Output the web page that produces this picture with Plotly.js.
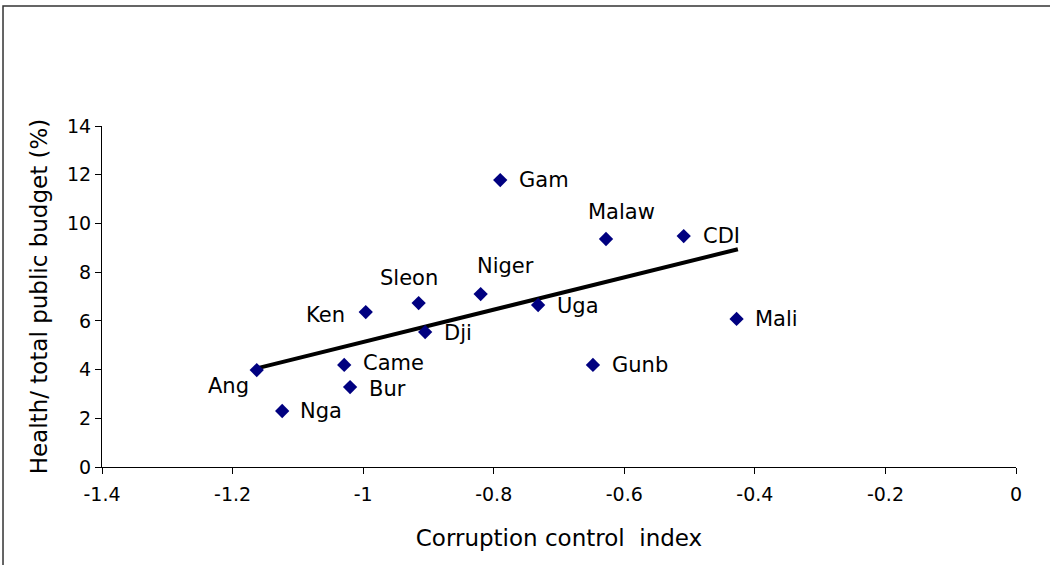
<!DOCTYPE html>
<html>
<head>
<meta charset="utf-8">
<script src="https://cdn.plot.ly/plotly-3.0.1.min.js"></script>
<style>html,body{margin:0;padding:0;background:#fff;}#chart{width:1050px;height:565px;}</style>
</head>
<body>
<div id="chart"></div>
<script>
var countries = ["Ang","Nga","Came","Bur","Ken","Sleon","Dji","Niger","Gam","Uga","Malaw","Gunb","CDI","Mali"];
var corruptionIndex = [-1.163,-1.124,-1.029,-1.020,-0.996,-0.915,-0.905,-0.820,-0.790,-0.732,-0.628,-0.648,-0.509,-0.428];
var healthShare = [3.98,2.30,4.19,3.28,6.36,6.73,5.54,7.10,11.78,6.65,9.36,4.19,9.48,6.08];
var trendX = [-1.163,-0.426];
var trendY = [4.05,8.94];
var xTicks = [-1.4,-1.2,-1,-0.8,-0.6,-0.4,-0.2,0];
var xTickText = ["-1.4","-1.2","-1","-0.8","-0.6","-0.4","-0.2","0"];
var yTicks = [0,2,4,6,8,10,12,14];

// label placement (style): [xanchor, xshift, yshift]
var labelPlace = {
  "Ang":["center",-28,-16], "Nga":["left",16,0], "Came":["left",17,2], "Bur":["left",17,-2],
  "Ken":["right",-19,-3], "Sleon":["center",-10,25], "Dji":["left",17,-1], "Niger":["center",25,28],
  "Gam":["left",17,0], "Uga":["left",17,-1], "Malaw":["center",15,27], "Gunb":["left",17,0],
  "CDI":["left",17,0], "Mali":["left",16,0]
};

var font = "DejaVu Sans, Verdana, sans-serif";

var traces = [
  {x: trendX, y: trendY, type: "scatter", mode: "lines",
   line: {color: "#000000", width: 4}, hoverinfo: "skip", showlegend: false},
  {x: corruptionIndex, y: healthShare, type: "scatter", mode: "markers",
   marker: {symbol: "diamond", color: "#000080", size: 11, line: {width: 0}},
   text: countries, showlegend: false}
];

var annotations = countries.map(function(c, i){
  var p = labelPlace[c];
  return {x: corruptionIndex[i], y: healthShare[i], xref: "x", yref: "y", text: c,
    showarrow: false, xanchor: p[0], yanchor: "middle", xshift: p[1], yshift: p[2],
    font: {family: font, size: 21, color: "#000"}};
});

var layout = {
  width: 1050, height: 565,
  margin: {l: 102, r: 34, t: 126, b: 98, pad: 0},
  paper_bgcolor: "#ffffff", plot_bgcolor: "#ffffff",
  showlegend: false,
  font: {family: font, color: "#000"},
  xaxis: {range: [-1.4, 0], tickmode: "array", tickvals: xTicks, ticktext: xTickText,
    showgrid: false, zeroline: false, showline: true, linecolor: "#000", linewidth: 1,
    ticks: "outside", ticklen: 6, tickcolor: "#000", tickwidth: 1, ticklabelstandoff: 4,
    tickfont: {family: font, size: 19, color: "#000"},
    title: {text: "Corruption control  index", font: {family: font, size: 23, color: "#000"}, standoff: 26}},
  yaxis: {range: [0, 14], tickmode: "array", tickvals: yTicks,
    showgrid: false, zeroline: false, showline: true, linecolor: "#000", linewidth: 1,
    ticks: "outside", ticklen: 6, tickcolor: "#000", tickwidth: 1,
    tickfont: {family: font, size: 19, color: "#000"},
    title: {text: "Health/ total public budget (%)", font: {family: font, size: 23, color: "#000"}, standoff: 12}},
  annotations: annotations,
  shapes: [
    {type: "rect", xref: "paper", yref: "paper", x0: -0.1083, x1: 1.05, y0: -0.3, y1: 1.352,
     line: {color: "#333", width: 1.5}, fillcolor: "rgba(0,0,0,0)", layer: "below"}
  ]
};

Plotly.newPlot("chart", traces, layout, {displayModeBar: false, staticPlot: true});
</script>
</body>
</html>
